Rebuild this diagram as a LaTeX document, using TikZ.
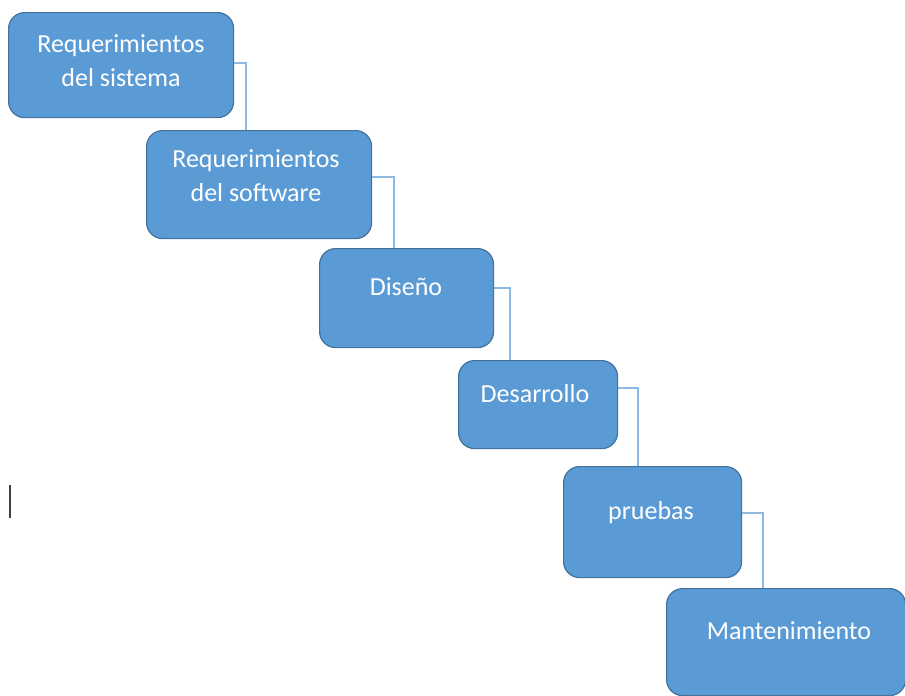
\documentclass[tikz,border=0pt]{standalone}
\usepackage{fontspec}
\setmainfont{Carlito}
\definecolor{boxfill}{HTML}{5B9BD5}
\definecolor{boxline}{HTML}{41719C}
\definecolor{linkline}{HTML}{8DBAE3}
\begin{document}
\begin{tikzpicture}[x=1pt,y=-1pt,
  stage/.style={draw=boxline, line width=1.2pt, fill=boxfill, rounded corners=16pt,
                inner sep=0pt, anchor=north west},
  caption/.style={text=white, font=\fontsize{26}{34}\selectfont, align=center,
                  anchor=base, inner sep=0pt},
  link/.style={draw=linkline, line width=2pt}]
\useasboundingbox (0,0) rectangle (905,696);

% waterfall stages
\node[stage, minimum width=225pt, minimum height=105pt] (s1) at (8,12) {};
\node[stage, minimum width=225pt, minimum height=108pt] (s2) at (146,130) {};
\node[stage, minimum width=174pt, minimum height=99pt]  (s3) at (319,248) {};
\node[stage, minimum width=159pt, minimum height=88pt]  (s4) at (458,360) {};
\node[stage, minimum width=178pt, minimum height=111pt] (s5) at (563,466) {};
\node[stage, minimum width=239pt, minimum height=107pt] (s6) at (666,588) {};

% stage names (base anchor sits on the last line)
\node[caption] (t1) at (121,86)  {Requerimientos\\del sistema};
\node[caption] (t2) at (256,201) {Requerimientos\\del software};
\node[caption] (t3) at (406,295) {Diseño};
\node[caption] (t4) at (535,402) {Desarrollo};
\node[caption] (t5) at (651,519) {pruebas};
\node[caption] (t6) at (789,639) {Mantenimiento};

% step connectors
\draw[link] (s1.east |- 0,63)  -| (s2.north -| 246,0);
\draw[link] (s2.east |- 0,177) -| (s3.north -| 394,0);
\draw[link] (s3.east |- 0,288) -| (s4.north -| 510,0);
\draw[link] (s4.east |- 0,388) -| (s5.north -| 638,0);
\draw[link] (s5.east |- 0,513) -| (s6.north -| 763,0);

% text caret
\node[fill=black!75, minimum width=2.5pt, minimum height=33pt, inner sep=0pt] (caret) at (10,501.5) {};
\end{tikzpicture}
\end{document}
